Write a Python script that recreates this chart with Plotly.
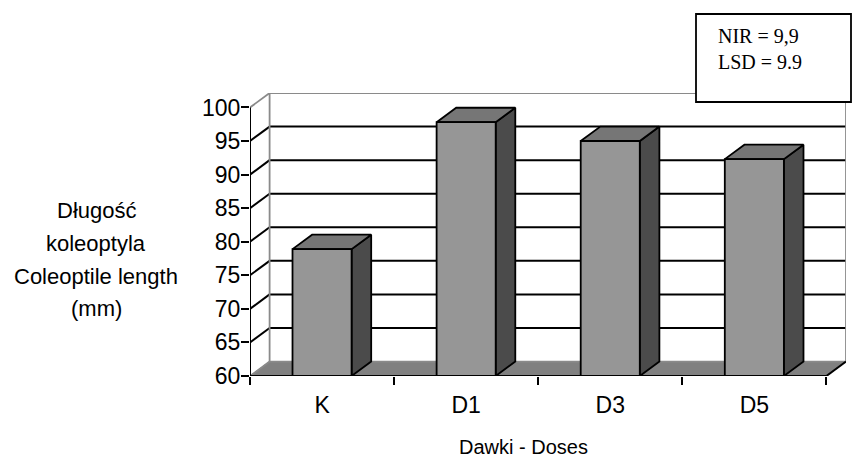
import plotly.graph_objects as go

# ---- data ----
categories = ["K", "D1", "D3", "D5"]
values = [78.9, 97.8, 95.0, 92.3]
y_ticks = [60, 65, 70, 75, 80, 85, 90, 95, 100]
y_title_lines = ["Długość", "koleoptyla", "Coleoptile length", "(mm)"]
x_title = "Dawki - Doses"
note_lines = ["NIR = 9,9", "LSD = 9.9"]

# ---- geometry / style ----
W, H = 852, 465
ML, MR, MT, MB = 250, 6, 93, 89
YMIN, YMAX = 60, 100
DX, DY = 0.136, 2.15          # depth offset (x in category units, y in value units)
BW = 0.41                     # bar width (category units)
N = len(categories)
XR = [0, N + DX]
YR = [YMIN, YMAX + DY]

FRONT = "#969696"
TOP = "#767676"
SIDE = "#4b4b4b"
FLOOR = "#808080"
EDGE = "#8a8a8a"

fig = go.Figure()

def poly(xs, ys, fill, line="black", lw=1.5):
    fig.add_trace(go.Scatter(x=xs + [xs[0]], y=ys + [ys[0]], mode="lines",
                             fill="toself", fillcolor=fill,
                             line=dict(color=line, width=lw),
                             hoverinfo="skip", showlegend=False))

def lines(segs, color, lw):
    xs, ys = [], []
    for (x0, y0, x1, y1) in segs:
        xs += [x0, x1, None]
        ys += [y0, y1, None]
    fig.add_trace(go.Scatter(x=xs, y=ys, mode="lines",
                             line=dict(color=color, width=lw),
                             hoverinfo="skip", showlegend=False))

# floor
poly([0, N, N + DX, DX], [YMIN, YMIN, YMIN + DY, YMIN + DY], FLOOR, line=FLOOR, lw=1)

# gridlines: back wall and left wall diagonals
grid = []
for v in y_ticks[1:-1]:
    grid.append((0, v, DX, v + DY))
    grid.append((DX, v + DY, N + DX, v + DY))
lines(grid, "black", 2)

# wall edges (gray)
lines([(DX, YMIN + DY, DX, YMAX + DY),
       (DX, YMAX + DY, N + DX, YMAX + DY),
       (N + DX, YMIN + DY, N + DX, YMAX + DY),
       (0, YMAX, DX, YMAX + DY),
       (0, YMIN, DX, YMIN + DY),
       (DX, YMIN + DY, N + DX, YMIN + DY)], EDGE, 1.8)

# front axes
lines([(0, YMIN, 0, YMAX),
       (0, YMIN, N, YMIN),
       (N, YMIN, N + DX, YMIN + DY)], "black", 2)

# bars (front, top, side faces)
for i, v in enumerate(values):
    c = i + 0.5
    x0, x1 = c - BW / 2, c + BW / 2
    poly([x1, x1 + DX, x1 + DX, x1], [YMIN, YMIN + DY, v + DY, v], SIDE, lw=1.8)
    poly([x0, x1, x1 + DX, x0 + DX], [v, v, v + DY, v + DY], TOP, lw=1.8)
    poly([x0, x1, x1, x0], [YMIN, YMIN, v, v], FRONT, lw=1.8)

def px2paper_x(px):
    return (px - ML) / (W - ML - MR)

def px2paper_y(py):
    return 1 - (py - MT) / (H - MT - MB)

font_sans = "Liberation Sans, Arial, sans-serif"
font_serif = "Liberation Serif, Times New Roman, serif"

# y title lines
for txt, yc in zip(y_title_lines, [210, 243, 276, 308]):
    fig.add_annotation(x=px2paper_x(96), y=px2paper_y(yc), xref="paper", yref="paper",
                       text=txt, showarrow=False, xanchor="center", yanchor="middle",
                       font=dict(family=font_sans, size=22, color="black"))

# x title
fig.add_annotation(x=px2paper_x(523), y=px2paper_y(447), xref="paper", yref="paper",
                   text=x_title, showarrow=False, xanchor="center", yanchor="middle",
                   font=dict(family=font_sans, size=20, color="black"))

# note box
fig.add_shape(type="rect", xref="paper", yref="paper",
              x0=px2paper_x(696), x1=px2paper_x(851),
              y0=px2paper_y(102), y1=px2paper_y(14),
              line=dict(color="black", width=1.8), fillcolor="white", layer="above")
for txt, yc in zip(note_lines, [36, 62]):
    fig.add_annotation(x=px2paper_x(716), y=px2paper_y(yc), xref="paper", yref="paper",
                       text=txt, showarrow=False, xanchor="left", yanchor="middle",
                       font=dict(family=font_serif, size=20, color="black"))

fig.update_layout(
    width=W, height=H,
    margin=dict(l=ML, r=MR, t=MT, b=MB, pad=0),
    paper_bgcolor="white", plot_bgcolor="white",
    showlegend=False,
    xaxis=dict(range=XR, showgrid=False, zeroline=False, showline=False,
               tickmode="array", tickvals=[i + 0.5 for i in range(N)], ticktext=categories,
               ticks="", ticklabelstandoff=13,
               tickfont=dict(family=font_sans, size=23, color="black"),
               minor=dict(tickmode="array", tickvals=list(range(N + 1)), ticks="outside",
                          ticklen=8, tickwidth=1.8, tickcolor="black", showgrid=False),
               fixedrange=True),
    yaxis=dict(range=YR, showgrid=False, zeroline=False, showline=False,
               tickmode="array", tickvals=y_ticks, ticktext=[str(t) for t in y_ticks],
               ticks="outside", ticklen=8, tickwidth=1.8, tickcolor="black",
               ticklabelstandoff=-4,
               tickfont=dict(family=font_sans, size=23, color="black"),
               fixedrange=True),
)

fig.write_html("out.html", config={"displayModeBar": False},
               post_script="document.body.style.margin='0';")
